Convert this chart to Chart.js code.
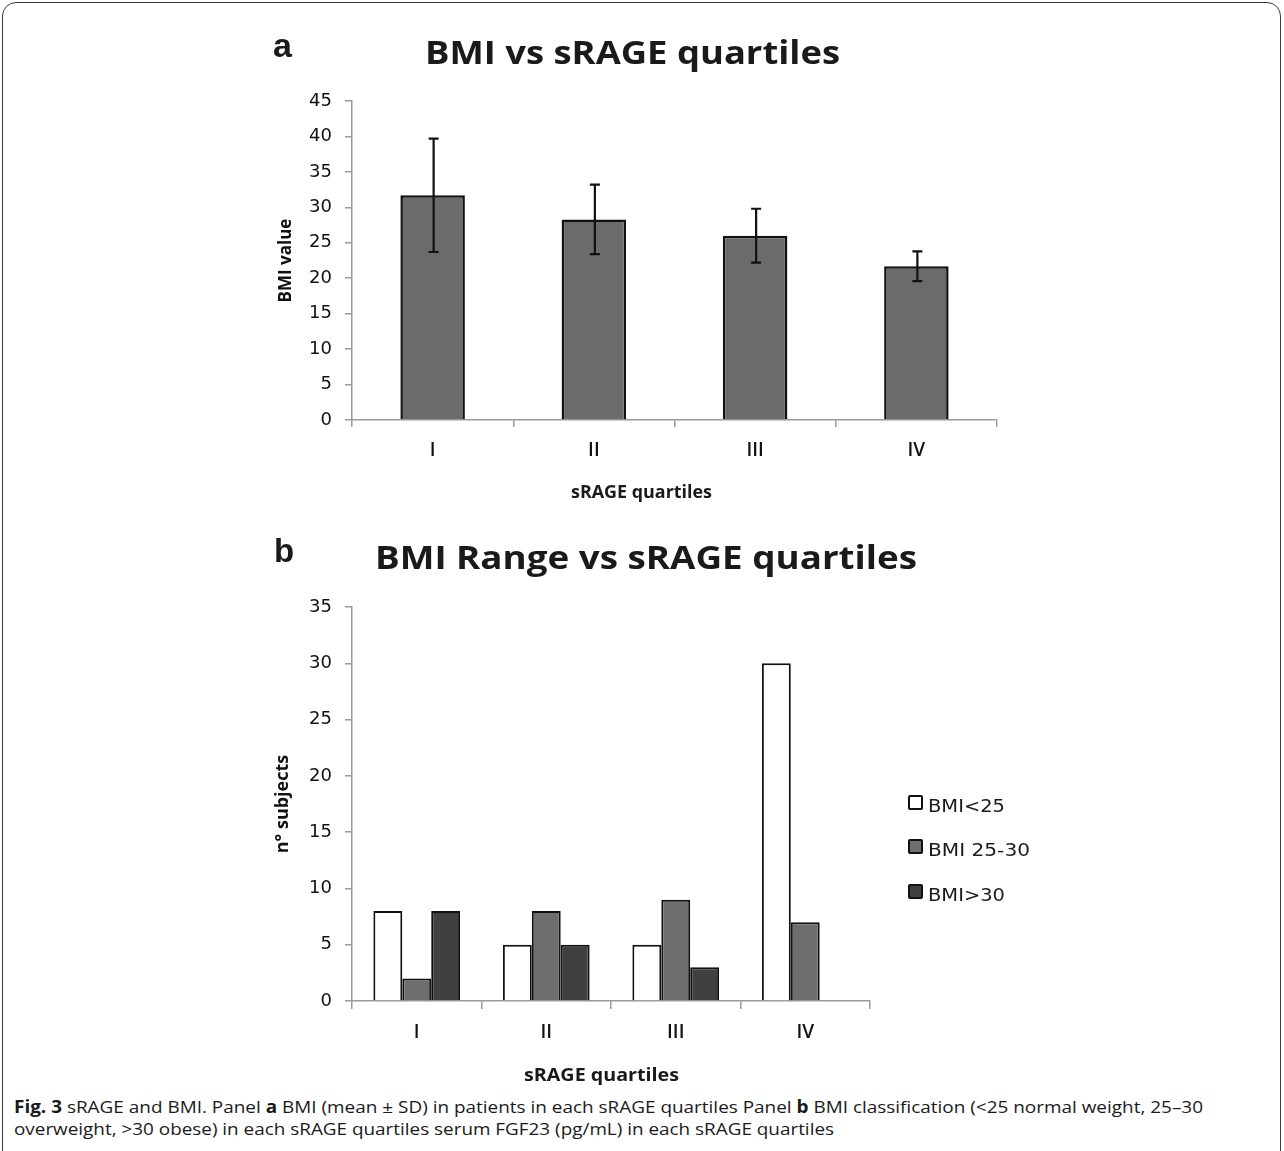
<!DOCTYPE html>
<html><head><meta charset="utf-8">
<script src="https://cdn.jsdelivr.net/npm/chart.js@4.4.1/dist/chart.umd.min.js"></script>
<style>
html,body{margin:0;padding:0;background:#fff;}
body{width:1284px;height:1151px;position:relative;overflow:hidden;font-family:"Open Sans",sans-serif;color:#1a1a1a;}
#frame{position:absolute;left:2px;top:2px;width:1279px;height:1220px;border:1.5px solid #3a3a3a;border-radius:14px;box-sizing:border-box;}
.txt{position:absolute;white-space:nowrap;transform-origin:0 0;line-height:1;}
canvas{position:absolute;left:0;}
.sq{position:absolute;width:15px;height:15px;box-sizing:border-box;border:2px solid #111;border-radius:2px;}
</style></head><body>
<div id="frame"></div>
<canvas id="ca" width="1284" height="520" style="top:0"></canvas>
<canvas id="cb" width="1284" height="560" style="top:520px"></canvas>
<script>
// ---- data ----
const categories = ['I', 'II', 'III', 'IV'];
const bmiMean = [31.7, 28.3, 26.0, 21.7];
const bmiSD = [8.0, 4.9, 3.8, 2.1];
const rangeLabels = ['BMI<25', 'BMI 25-30', 'BMI>30'];
const countUnder25 = [8, 5, 5, 30];
const count25to30 = [2, 8, 9, 7];
const countOver30 = [8, 5, 3, 0];
const titleA = 'BMI vs sRAGE quartiles';
const titleB = 'BMI Range vs sRAGE quartiles';
const xTitle = 'sRAGE quartiles';
const yTitleA = 'BMI value';
const yTitleB = 'n° subjects';

// ---- styles ----
const rangeColors = ['#ffffff', '#6e6e6e', '#404040'];
const axisGray = '#9a9a9a';
const tickFont = {family: 'DejaVu Sans', size: 18};
const catFont = {family: 'Open Sans', size: 19, weight: '600'};

// ---- helper for HTML text ----
function place(html, font, left, baseline, ascentRatio, targetWidth) {
  const d = document.createElement('div');
  d.className = 'txt';
  d.style.font = font;
  d.innerHTML = html;
  document.body.appendChild(d);
  const size = parseFloat(getComputedStyle(d).fontSize);
  d.style.left = left + 'px';
  d.style.top = (baseline - ascentRatio * size) + 'px';
  if (targetWidth) {
    const w = d.getBoundingClientRect().width;
    d.style.transform = 'scaleX(' + (targetWidth / w) + ')';
  }
  return d;
}

// ---- error bar plugin ----
const errorBars = {
  id: 'errorBars',
  afterDatasetsDraw(chart) {
    const meta = chart.getDatasetMeta(0);
    const y = chart.scales.y;
    const ctx = chart.ctx;
    ctx.save();
    ctx.strokeStyle = '#111';
    ctx.lineWidth = 2.2;
    meta.data.forEach((bar, i) => {
      const yt = y.getPixelForValue(bmiMean[i] + bmiSD[i]);
      const yb = y.getPixelForValue(bmiMean[i] - bmiSD[i]);
      const x = bar.x + 1, w = 5;
      ctx.beginPath();
      ctx.moveTo(x, yt); ctx.lineTo(x, yb);
      ctx.moveTo(x - w, yt); ctx.lineTo(x + w, yt);
      ctx.moveTo(x - w, yb); ctx.lineTo(x + w, yb);
      ctx.stroke();
    });
    ctx.restore();
  }
};

function axes(maxY, yTitle, yTitleSize, yTitlePad, xHeight, xTickLen, xPad) {
  return {
    x: {
      grid: {offset: true, drawOnChartArea: false, tickLength: xTickLen, color: axisGray, lineWidth: 1.5},
      border: {color: axisGray, width: 1.5},
      ticks: {font: catFont, color: '#111', padding: xPad},
      afterFit(s) { s.height = xHeight; }
    },
    y: {
      min: 0, max: maxY,
      ticks: {stepSize: 5, font: tickFont, color: '#111', padding: 13},
      grid: {drawOnChartArea: false, tickLength: 7, color: axisGray, lineWidth: 1.5},
      border: {color: axisGray, width: 1.5},
      title: {display: true, text: yTitle, font: {family: 'Open Sans', weight: 'bold', size: yTitleSize}, color: '#111', padding: {top: yTitlePad, bottom: 0}},
      afterFit(s) { s.width = 82; }
    }
  };
}

new Chart(document.getElementById('ca'), {
  type: 'bar',
  data: {
    labels: categories,
    datasets: [{
      label: yTitleA,
      data: bmiMean,
      backgroundColor: '#6b6b6b',
      borderColor: '#111',
      borderWidth: 2.5,
      borderSkipped: 'bottom',
      categoryPercentage: 1.0,
      barPercentage: 0.40
    }]
  },
  options: {
    responsive: false,
    animation: false,
    layout: {padding: {left: 270, right: 287, top: 101, bottom: 10}},
    plugins: {legend: {display: false}, tooltip: {enabled: false}},
    scales: axes(45, yTitleA, 17, 6, 90, 7, 12)
  },
  plugins: [errorBars]
});

const rangeData = [countUnder25, count25to30, countOver30];
new Chart(document.getElementById('cb'), {
  type: 'bar',
  data: {
    labels: categories,
    datasets: rangeLabels.map((lab, k) => ({
      label: lab,
      data: rangeData[k],
      backgroundColor: rangeColors[k],
      borderColor: '#111',
      borderWidth: c => (c.raw === 0 ? 0 : 2),
      borderSkipped: 'bottom',
      categoryPercentage: 0.67,
      barPercentage: 1.0
    }))
  },
  options: {
    responsive: false,
    animation: false,
    layout: {padding: {left: 270, right: 414, top: 87, bottom: 10}},
    plugins: {legend: {display: false}, tooltip: {enabled: false}},
    scales: axes(35, yTitleB, 18, 2, 69, 8, 12)
  }
});

// ---- HTML texts ----
const OS = 0.888, LS = 0.8465, DV = 0.846;
place('a', 'bold 34px "Liberation Sans"', 273, 55, LS);
place(titleA, 'bold 33px "Open Sans"', 425, 58, OS, 415);
place('b', 'bold 33px "Liberation Sans"', 274, 560, LS);
place(titleB, 'bold 33px "Open Sans"', 375, 563, OS, 542);
place(xTitle, 'bold 18px "Open Sans"', 571, 495, OS, 141);
place(xTitle, 'bold 18px "Open Sans"', 524, 1078, OS, 155);

// legend
const legBase = [810, 854, 899];
rangeLabels.forEach((lab, k) => {
  const s = document.createElement('div');
  s.className = 'sq';
  s.style.background = rangeColors[k];
  s.style.left = '908px';
  s.style.top = (legBase[k] - 15) + 'px';
  document.body.appendChild(s);
  place(lab, '18px "DejaVu Sans"', 928, legBase[k], DV, [77, 102, 77][k]);
});

// caption
place('<b>Fig. 3</b> sRAGE and BMI. Panel <b>a</b> BMI (mean ± SD) in patients in each sRAGE quartiles Panel <b>b</b> BMI classification (&lt;25 normal weight, 25–30',
  '17px "Open Sans"', 14, 1110, OS, 1189);
place('overweight, &gt;30 obese) in each sRAGE quartiles serum FGF23 (pg/mL) in each sRAGE quartiles',
  '17px "Open Sans"', 14, 1132, OS, 820);
</script>
</body></html>
